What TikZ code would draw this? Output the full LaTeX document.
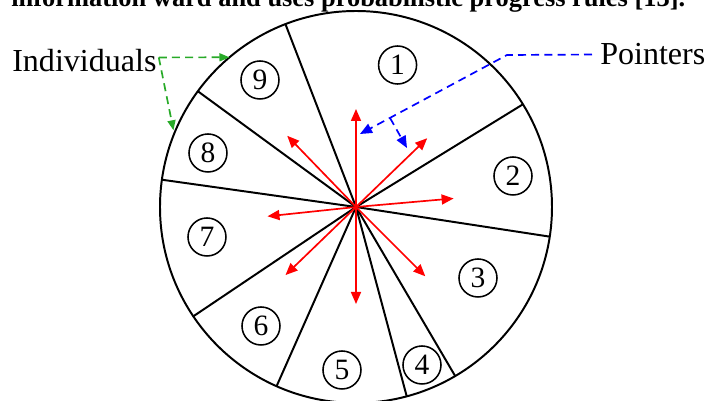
\documentclass[tikz,border=0pt]{standalone}
\usepackage{fontspec}
\setmainfont{Liberation Serif}
\usepackage{xcolor}
\usetikzlibrary{arrows.meta, calc}

\definecolor{indgreen}{RGB}{40,170,40}

\begin{document}
\begin{tikzpicture}[
  sector/.style={line width=1.4pt},
  num/.style={circle, draw, line width=1.1pt, minimum size=0.95cm, inner sep=0pt, font=\fontsize{21}{21}\selectfont},
  tag/.style={inner sep=0pt, font=\fontsize{22.8}{22.8}\selectfont},
  ptr/.style={-{Triangle[length=0.3cm,width=0.25cm]}, red, line width=1.2pt},
  dashptr/.style={line width=1.2pt, dash pattern=on 0.2cm off 0.13cm},
  blueptr/.style={dashptr, blue, -{Triangle[length=0.3cm,width=0.25cm]}},
  greenptr/.style={dashptr, indgreen, -{Triangle[length=0.25cm,width=0.2cm]}}
]
  \useasboundingbox (-8.9,-4.85) rectangle (9.05,5.175);
  \clip (-8.9,-4.85) rectangle (9.05,5.175);

  % caption line, cut at the top
  \node[anchor=base west, inner sep=0pt, font=\bfseries\fontsize{18.8}{18.8}\selectfont] (cap) at (-8.625,5.01)
    {information ward and uses probabilistic progress rules [13].};

  % the wheel and its sectors
  \coordinate (O) at (0,0);
  \draw[sector] (O) circle (4.9);
  \foreach \a in {111.1, 31.6, -8.7, -59.6, -75, 246.1, 213.9, 172, 143.8}
    \draw[sector] (O) -- (\a:4.9);

  % individuals
  \node[num] (n1) at (1.04,3.55) {1};
  \node[num] (n2) at (3.925,0.775) {2};
  \node[num] (n3) at (3.05,-1.775) {3};
  \node[num] (n4) at (1.65,-3.95) {4};
  \node[num] (n5) at (-0.35,-4.075) {5};
  \node[num] (n6) at (-2.375,-2.975) {6};
  \node[num] (n7) at (-3.725,-0.75) {7};
  \node[num] (n8) at (-3.7,1.35) {8};
  \node[num] (n9) at (-2.4,3.175) {9};

  % pointers
  \foreach \a/\l in {90/2.45, 44/2.475, 5/2.45, -45/2.45, -90/2.425, -136/2.45, 186/2.225, 134/2.475}
    \draw[ptr] (O) -- (\a:\l);

  % labels
  \node[tag, anchor=base west] (ind) at (-8.6,3.375) {Individuals};
  \node[tag, anchor=base west] (pnt) at (6.1,3.55) {Pointers};

  \coordinate (gsplit) at ($(ind.east)+(0.05,0.09)$);
  \coordinate (g9) at (130.2:4.9);
  \coordinate (g8) at (157.2:4.95);
  \draw[greenptr] (gsplit) -- (g9);
  \draw[greenptr] (gsplit) -- (g8);

  \coordinate (pstart) at ($(pnt.west)+(-0.2,0)$);
  \coordinate (pbend) at (3.775,3.8);
  \coordinate (ptip) at (0.1,1.825);
  \coordinate (pfork) at ($(pbend)!0.796!(ptip)$);
  \coordinate (ptip2) at (1.275,1.475);
  \draw[blueptr] (pstart) -- (pbend) -- (ptip);
  \draw[blueptr] (pfork) -- (ptip2);
\end{tikzpicture}
\end{document}
